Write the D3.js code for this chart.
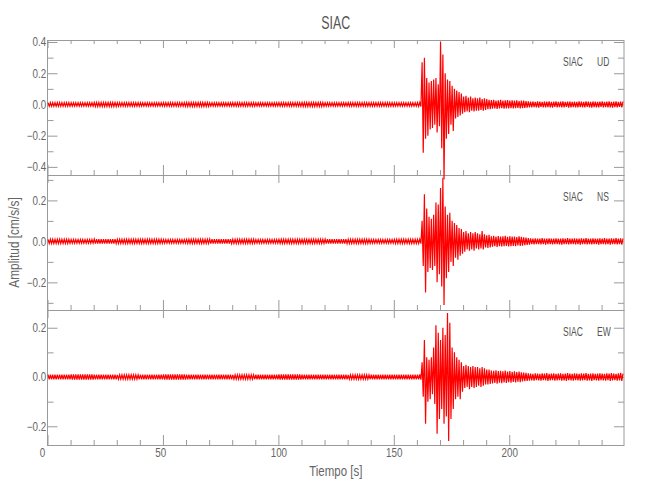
<!DOCTYPE html>
<html><head><meta charset="utf-8">
<script src="https://cdn.jsdelivr.net/npm/d3@7"></script>
<style>
body{margin:0;background:#fff}
text{font-family:"Liberation Sans",Arial,sans-serif;}
</style>
</head><body>
<svg id="chart" width="650" height="500"></svg>
<script>
// ---------------- data ----------------
const station = "SIAC";
const components = ["UD", "NS", "EW"];
const timeDomain = [0, 249.7];
const xMajorTicks = [0, 50, 100, 150, 200];
const xMinorTicks = [10,20,30,40,60,70,80,90,110,120,130,140,160,170,180,190,210,220,230,240];
const yDomainUD = [-0.452, 0.413];
const yDomainNS = [-0.335, 0.324];
const yDomainEW = [-0.276, 0.272];
const yMajorUD = [-0.4, -0.2, 0, 0.2, 0.4];
const yMinorUD = [-0.3, -0.1, 0.1, 0.3];
const yMajorNS = [-0.2, 0, 0.2];
const yMinorNS = [-0.3, -0.1, 0.1, 0.3];
const yMajorEW = [-0.2, 0, 0.2];
const yMinorEW = [-0.1, 0.1];

// pre-event noise amplitude, one value per 10 s block (0-160 s)
const noiseUD = [0.012,0.011,0.013,0.012,0.011,0.012,0.013,0.011,0.012,0.011,0.012,0.013,0.011,0.012,0.012,0.011];
const noiseNS = [0.010,0.009,0.011,0.010,0.010,0.009,0.010,0.011,0.010,0.009,0.010,0.010,0.011,0.010,0.009,0.010];
const noiseEW = [0.010,0.011,0.010,0.009,0.010,0.011,0.010,0.010,0.009,0.010,0.011,0.010,0.010,0.009,0.010,0.010];

// event window: max / min amplitude per 1 s, t = 160 ... 249 s
const eventStart = 160;
const maxUD = [
 0.012,0.013,0.27,0.30,0.17,0.14,0.15,0.16,0.17,0.13,
 0.40,0.32,0.20,0.16,0.15,0.12,0.10,0.09,0.08,0.07,
 0.05,0.055,0.045,0.05,0.04,0.045,0.04,0.045,0.035,0.04,
 0.035,0.03,0.028,0.03,0.025,0.027,0.03,0.025,0.026,0.028,
 0.024,0.027,0.025,0.026,0.022,0.025,0.024,0.022,0.02,0.018,
 0.019,0.017,0.02,0.018,0.016,0.019,0.018,0.02,0.017,0.018,
 0.019,0.016,0.018,0.02,0.017,0.018,0.019,0.017,0.018,0.016,
 0.019,0.018,0.017,0.02,0.018,0.017,0.019,0.018,0.016,0.018,
 0.019,0.017,0.018,0.02,0.017,0.018,0.019,0.017,0.018,0.019];
const minUD = [
 -0.012,-0.013,-0.31,-0.22,-0.20,-0.16,-0.15,-0.13,-0.18,-0.14,
 -0.28,-0.48,-0.22,-0.19,-0.13,-0.17,-0.09,-0.08,-0.07,-0.06,
 -0.05,-0.045,-0.05,-0.04,-0.045,-0.04,-0.04,-0.035,-0.04,-0.035,
 -0.03,-0.03,-0.027,-0.025,-0.028,-0.026,-0.024,-0.027,-0.025,-0.026,
 -0.023,-0.025,-0.024,-0.022,-0.025,-0.023,-0.022,-0.02,-0.018,-0.019,
 -0.017,-0.018,-0.02,-0.016,-0.018,-0.019,-0.017,-0.018,-0.02,-0.016,
 -0.018,-0.017,-0.019,-0.018,-0.016,-0.02,-0.018,-0.017,-0.019,-0.018,
 -0.017,-0.019,-0.018,-0.016,-0.018,-0.02,-0.017,-0.018,-0.019,-0.016,
 -0.018,-0.017,-0.019,-0.018,-0.02,-0.017,-0.018,-0.016,-0.019,-0.018];
const maxNS = [
 0.010,0.011,0.10,0.23,0.16,0.12,0.11,0.13,0.19,0.18,
 0.26,0.31,0.17,0.13,0.14,0.10,0.09,0.08,0.065,0.06,
 0.045,0.05,0.04,0.045,0.04,0.045,0.04,0.035,0.05,0.035,
 0.03,0.032,0.025,0.027,0.024,0.026,0.023,0.025,0.027,0.022,
 0.025,0.023,0.024,0.021,0.025,0.022,0.02,0.018,0.016,0.015,
 0.014,0.015,0.013,0.014,0.016,0.013,0.014,0.015,0.013,0.014,
 0.015,0.014,0.013,0.015,0.014,0.016,0.013,0.014,0.015,0.014,
 0.013,0.015,0.014,0.016,0.014,0.013,0.015,0.014,0.013,0.015,
 0.014,0.016,0.014,0.013,0.015,0.014,0.016,0.014,0.015,0.014];
const minNS = [
 -0.010,-0.011,-0.12,-0.25,-0.15,-0.13,-0.14,-0.12,-0.20,-0.16,
 -0.22,-0.31,-0.18,-0.15,-0.10,-0.12,-0.08,-0.09,-0.07,-0.06,
 -0.05,-0.04,-0.045,-0.04,-0.045,-0.035,-0.04,-0.035,-0.04,-0.03,
 -0.032,-0.03,-0.026,-0.024,-0.027,-0.023,-0.025,-0.024,-0.022,-0.025,
 -0.023,-0.022,-0.024,-0.02,-0.022,-0.021,-0.019,-0.017,-0.016,-0.014,
 -0.015,-0.014,-0.013,-0.015,-0.014,-0.016,-0.013,-0.014,-0.015,-0.013,
 -0.014,-0.015,-0.016,-0.013,-0.014,-0.015,-0.014,-0.013,-0.015,-0.014,
 -0.016,-0.014,-0.013,-0.015,-0.014,-0.015,-0.013,-0.014,-0.016,-0.014,
 -0.013,-0.015,-0.014,-0.016,-0.014,-0.013,-0.015,-0.014,-0.016,-0.015];
const maxEW = [
 0.010,0.011,0.06,0.15,0.08,0.07,0.08,0.12,0.21,0.18,
 0.15,0.20,0.17,0.26,0.22,0.12,0.10,0.08,0.07,0.06,
 0.045,0.05,0.045,0.04,0.045,0.04,0.04,0.035,0.04,0.035,
 0.03,0.03,0.026,0.025,0.027,0.024,0.025,0.023,0.026,0.022,
 0.024,0.021,0.023,0.02,0.022,0.019,0.018,0.017,0.015,0.014,
 0.013,0.015,0.014,0.013,0.015,0.014,0.016,0.013,0.014,0.015,
 0.013,0.014,0.015,0.013,0.014,0.016,0.014,0.013,0.015,0.014,
 0.013,0.015,0.014,0.016,0.013,0.014,0.015,0.013,0.014,0.015,
 0.014,0.013,0.015,0.014,0.016,0.014,0.013,0.015,0.017,0.014];
const minEW = [
 -0.010,-0.011,-0.08,-0.19,-0.10,-0.09,-0.07,-0.11,-0.23,-0.17,
 -0.13,-0.19,-0.16,-0.26,-0.17,-0.13,-0.09,-0.08,-0.09,-0.06,
 -0.045,-0.04,-0.05,-0.04,-0.045,-0.04,-0.035,-0.04,-0.035,-0.03,
 -0.03,-0.028,-0.026,-0.024,-0.027,-0.023,-0.025,-0.022,-0.024,-0.021,
 -0.023,-0.02,-0.022,-0.019,-0.021,-0.018,-0.017,-0.016,-0.015,-0.014,
 -0.015,-0.013,-0.014,-0.015,-0.013,-0.014,-0.016,-0.014,-0.013,-0.015,
 -0.014,-0.013,-0.015,-0.014,-0.016,-0.013,-0.014,-0.015,-0.013,-0.014,
 -0.015,-0.014,-0.013,-0.015,-0.014,-0.016,-0.013,-0.014,-0.015,-0.013,
 -0.014,-0.015,-0.013,-0.016,-0.014,-0.013,-0.015,-0.014,-0.016,-0.014];

// ---------------- drawing ----------------
const panels = [
  {comp: components[0], dom: yDomainUD, major: yMajorUD, minor: yMinorUD, noise: noiseUD, mx: maxUD, mn: minUD},
  {comp: components[1], dom: yDomainNS, major: yMajorNS, minor: yMinorNS, noise: noiseNS, mx: maxNS, mn: minNS},
  {comp: components[2], dom: yDomainEW, major: yMajorEW, minor: yMinorEW, noise: noiseEW, mx: maxEW, mn: minEW}
];
const svg = d3.select("#chart");
const axisColor = "#9a9a9a", textColor = "#666";
const SX = 0.82; // horizontal squeeze giving the narrow plot-font look
const left = 47.5, right = 624, top0 = 40, ph = 135;
const x = d3.scaleLinear().domain(timeDomain).range([left, right]);
const fmt = d3.format(".1f");

function styleAxis(g) {
  g.select(".domain").remove();
  g.selectAll("line").attr("stroke", axisColor);
  g.selectAll("text").attr("fill", textColor).attr("font-size", 12)
    .attr("transform", `scale(${SX},1)`);
}

const traces = [];
panels.forEach((p, i) => {
  const top = top0 + i * ph, bottom = top + ph;
  const y = d3.scaleLinear().domain(p.dom).range([bottom, top]);

  // left axis
  svg.append("g").attr("transform", `translate(${left},0)`)
    .call(d3.axisLeft(y).tickValues(p.minor).tickSize(-6).tickFormat("")).call(styleAxis);
  svg.append("g").attr("transform", `translate(${left},0)`)
    .call(d3.axisLeft(y).tickValues(p.major).tickSize(-10).tickPadding(1.5).tickFormat(fmt)).call(styleAxis);
  // right axis
  svg.append("g").attr("transform", `translate(${right},0)`)
    .call(d3.axisRight(y).tickValues(p.minor).tickSize(-6).tickFormat("")).call(styleAxis);
  svg.append("g").attr("transform", `translate(${right},0)`)
    .call(d3.axisRight(y).tickValues(p.major).tickSize(-10).tickFormat("")).call(styleAxis);
  // bottom axis
  svg.append("g").attr("transform", `translate(0,${bottom})`)
    .call(d3.axisBottom(x).tickValues(xMinorTicks).tickSize(-5).tickFormat("")).call(styleAxis);
  const bx = svg.append("g").attr("transform", `translate(0,${bottom})`)
    .call(d3.axisBottom(x).tickValues(xMajorTicks).tickSize(-10).tickPadding(3.5)
      .tickFormat(i === 2 ? d3.format("d") : "")).call(styleAxis);
  bx.selectAll("text").attr("dx", d => -(3 - String(d).length) * 2.75 / SX);
  // top axis
  if (i === 0) {
    svg.append("g").attr("transform", `translate(0,${top})`)
      .call(d3.axisTop(x).tickValues(xMinorTicks).tickSize(-4).tickFormat("")).call(styleAxis);
  }
  svg.append("g").attr("transform", `translate(0,${top})`)
    .call(d3.axisTop(x).tickValues(xMajorTicks).tickSize(-8).tickFormat("")).call(styleAxis);

  // frame
  svg.append("rect").attr("x", left).attr("y", top + 0.5).attr("width", right - left).attr("height", ph)
    .attr("fill", "none").attr("stroke", axisColor).attr("stroke-width", 1);

  // component label
  svg.append("text").attr("transform", `translate(563,${top + 25.5}) scale(${0.8 * SX},1)`)
    .attr("font-size", 13).attr("fill", "#555").text(station);
  svg.append("text").attr("transform", `translate(597,${top + 25.5}) scale(${0.8 * SX},1)`)
    .attr("font-size", 13).attr("fill", "#555").text(p.comp);

  // envelope samples: each 1 s bin swings from its max to its min
  const pts = [];
  for (let s = 0; s < eventStart; s++) {
    const a = p.noise[Math.floor(s / 10)];
    pts.push([s + 0.25, a], [s + 0.75, -a]);
  }
  p.mx.forEach((v, k) => {
    const t = eventStart + k;
    pts.push([t + 0.25, v], [t + 0.75, p.mn[k]]);
  });
  traces.push({pts: pts.filter(d => d[0] <= timeDomain[1]), y});
});

// traces on top
traces.forEach(tr => {
  const line = d3.line().x(d => x(d[0])).y(d => tr.y(d[1]));
  svg.append("path").attr("d", line(tr.pts)).attr("fill", "none")
    .attr("stroke", "#ff0000").attr("stroke-width", 1.2);
});

// title & axis titles
svg.append("text").attr("transform", `translate(${(left + right) / 2},29.3) scale(${0.84 * SX},1)`)
  .attr("text-anchor", "middle").attr("font-size", 18).attr("fill", "#555").text(station);
svg.append("text").attr("transform", `translate(${(left + right) / 2},475.5) scale(${SX},1)`)
  .attr("text-anchor", "middle").attr("font-size", 14).attr("fill", textColor).text("Tiempo [s]");
svg.append("text").attr("transform", `translate(18.5,${top0 + 1.5 * ph}) rotate(-90) scale(${SX},1)`)
  .attr("text-anchor", "middle").attr("font-size", 14.5).attr("fill", textColor).text("Amplitud [cm/s/s]");
</script>
</body></html>
